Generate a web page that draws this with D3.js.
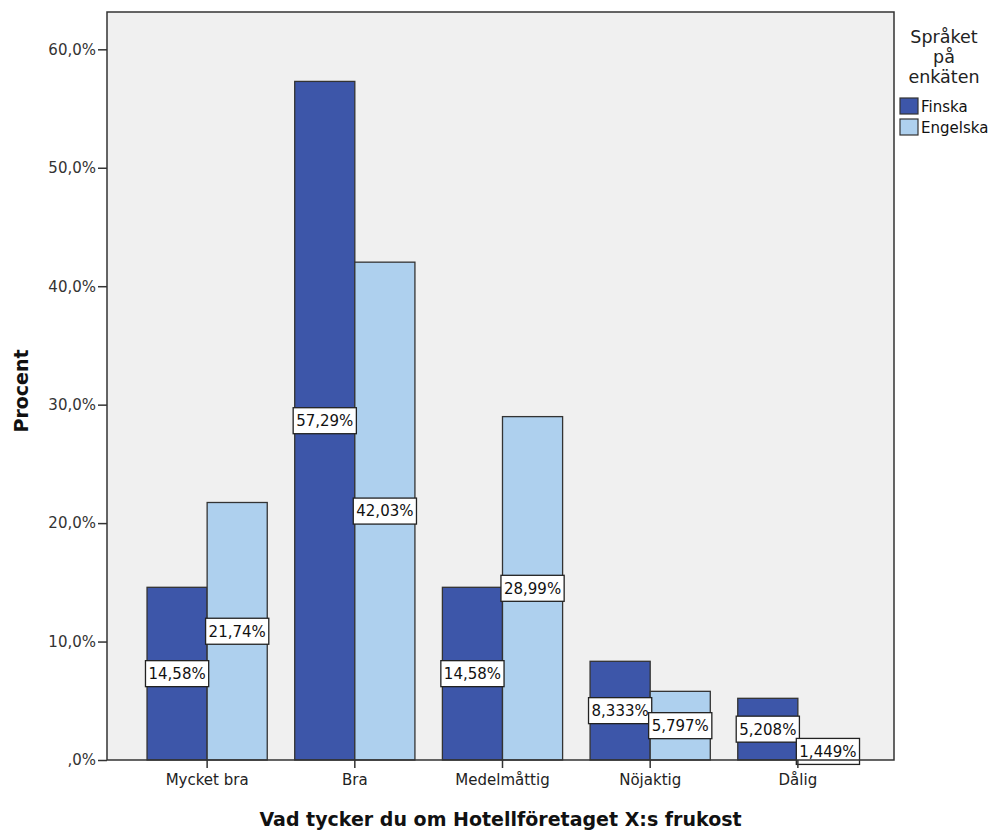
<!DOCTYPE html>
<html>
<head>
<meta charset="utf-8">
<script src="https://cdn.jsdelivr.net/npm/d3@7/dist/d3.min.js"></script>
<style>
  html, body { margin: 0; padding: 0; background: #fff; }
  svg { display: block; font-family: "DejaVu Sans", sans-serif; }
</style>
</head>
<body>
<svg id="chart" width="989" height="832"></svg>
<script>
// Breakfast ratings by questionnaire language (percent of respondents)
const categories = ["Mycket bra", "Bra", "Medelmåttig", "Nöjaktig", "Dålig"];
const seriesNames = ["Finska", "Engelska"];
const finska = [14.58, 57.29, 14.58, 8.333, 5.208];
const engelska = [21.74, 42.03, 28.99, 5.797, 1.449];
const valueLabels = {
  Finska: ["14,58%", "57,29%", "14,58%", "8,333%", "5,208%"],
  Engelska: ["21,74%", "42,03%", "28,99%", "5,797%", "1,449%"]
};
const yTicks = [0, 10, 20, 30, 40, 50, 60];
const yTickLabels = [",0%", "10,0%", "20,0%", "30,0%", "40,0%", "50,0%", "60,0%"];
const colors = { Finska: "#3d56a9", Engelska: "#aed0ee" };

const plot = { left: 107, top: 12, right: 894, bottom: 760 };
const svg = d3.select("#chart");

const x0 = d3.scaleBand()
  .domain(categories)
  .range([plot.left + 2, plot.right + 2])
  .paddingInner(0.186)
  .paddingOuter(0.2575);
const x1 = d3.scaleBand()
  .domain(seriesNames)
  .range([0, x0.bandwidth()]);
const y = d3.scaleLinear()
  .domain([0, 63.15])
  .range([plot.bottom, plot.top]);

// plot background
svg.append("rect")
  .attr("x", plot.left).attr("y", plot.top)
  .attr("width", plot.right - plot.left)
  .attr("height", plot.bottom - plot.top)
  .attr("fill", "#f0f0f0");

const rows = categories.map((c, i) => ({
  category: c,
  values: [
    { series: "Finska", value: finska[i], label: valueLabels.Finska[i] },
    { series: "Engelska", value: engelska[i], label: valueLabels.Engelska[i] }
  ]
}));

// bars
const groups = svg.append("g").selectAll("g")
  .data(rows).join("g")
  .attr("transform", d => `translate(${x0(d.category)},0)`);

groups.selectAll("rect")
  .data(d => d.values).join("rect")
  .attr("x", d => x1(d.series))
  .attr("y", d => y(d.value))
  .attr("width", x1.bandwidth())
  .attr("height", d => y(0) - y(d.value))
  .attr("fill", d => colors[d.series])
  .attr("stroke", "#333")
  .attr("stroke-width", 1.3);

// plot frame
svg.append("rect")
  .attr("x", plot.left).attr("y", plot.top)
  .attr("width", plot.right - plot.left)
  .attr("height", plot.bottom - plot.top)
  .attr("fill", "none")
  .attr("stroke", "#333")
  .attr("stroke-width", 1.5);

// y axis
const yAxis = d3.axisLeft(y)
  .tickValues(yTicks)
  .tickFormat((d, i) => yTickLabels[i])
  .tickSize(9)
  .tickPadding(2);
const gy = svg.append("g")
  .attr("transform", `translate(${plot.left},0)`)
  .call(yAxis);
gy.select(".domain").remove();
gy.selectAll(".tick line").attr("stroke", "#333").attr("stroke-width", 1.5);
gy.selectAll(".tick text")
  .attr("font-family", "DejaVu Sans")
  .attr("font-size", 15)
  .attr("fill", "#333");

// x axis
const xAxis = d3.axisBottom(x0).tickSize(8).tickPadding(6);
const gx = svg.append("g")
  .attr("transform", `translate(0,${plot.bottom})`)
  .call(xAxis);
gx.select(".domain").remove();
gx.selectAll(".tick line").attr("stroke", "#333").attr("stroke-width", 1.5);
gx.selectAll(".tick text")
  .attr("font-family", "DejaVu Sans")
  .attr("font-size", 15)
  .attr("fill", "#222");

// value labels at half bar height
const labels = groups.selectAll("g.vlabel")
  .data(d => d.values).join("g")
  .attr("class", "vlabel")
  .attr("transform", d => `translate(${x1(d.series) + x1.bandwidth() / 2},${y(d.value / 2)})`);
labels.append("text")
  .attr("text-anchor", "middle")
  .attr("dy", "0.36em")
  .attr("font-size", 15)
  .attr("fill", "#111")
  .text(d => d.label);
labels.each(function () {
  const g = d3.select(this);
  const bb = g.select("text").node().getBBox();
  g.insert("rect", "text")
    .attr("x", -bb.width / 2 - 3)
    .attr("y", -13)
    .attr("width", bb.width + 6)
    .attr("height", 26)
    .attr("fill", "#fff")
    .attr("stroke", "#222")
    .attr("stroke-width", 1.3);
});

// axis titles
svg.append("text")
  .attr("x", (plot.left + plot.right) / 2)
  .attr("y", 826)
  .attr("text-anchor", "middle")
  .attr("font-weight", "bold")
  .attr("font-size", 19)
  .attr("fill", "#111")
  .text("Vad tycker du om Hotellföretaget X:s frukost");

svg.append("text")
  .attr("transform", `translate(28,${(plot.top + plot.bottom) / 2 + 5}) rotate(-90)`)
  .attr("text-anchor", "middle")
  .attr("font-weight", "bold")
  .attr("font-size", 19)
  .attr("fill", "#111")
  .text("Procent");

// legend
const legend = svg.append("g");
const legendTitle = ["Språket", "på", "enkäten"];
legend.selectAll("text.lt")
  .data(legendTitle).join("text")
  .attr("class", "lt")
  .attr("x", 944)
  .attr("y", (d, i) => 42.5 + i * 20)
  .attr("text-anchor", "middle")
  .attr("font-size", 17.5)
  .attr("fill", "#222")
  .text(d => d);

const items = legend.selectAll("g.item")
  .data(seriesNames).join("g")
  .attr("class", "item")
  .attr("transform", (d, i) => `translate(900,${98 + i * 21})`);
items.append("rect")
  .attr("width", 18).attr("height", 16)
  .attr("fill", d => colors[d])
  .attr("stroke", "#333")
  .attr("stroke-width", 1.2);
items.append("text")
  .attr("x", 21)
  .attr("y", 14)
  .attr("font-size", 15)
  .attr("fill", "#111")
  .text(d => d);
</script>
</body>
</html>
